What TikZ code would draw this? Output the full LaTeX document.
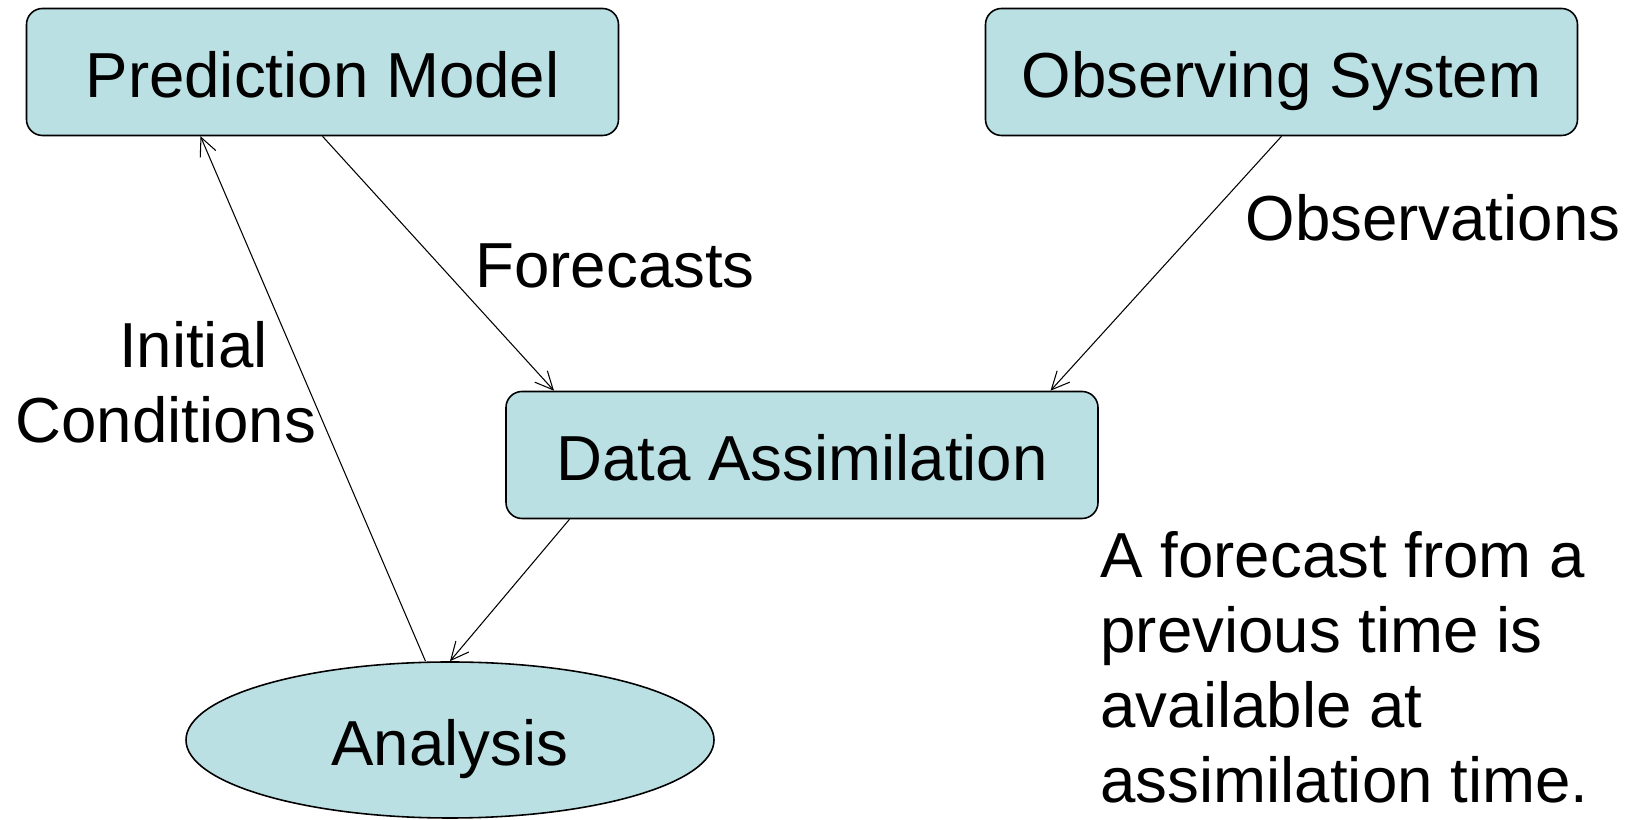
\documentclass[tikz,border=0pt]{standalone}
\usepackage{fontspec}
\setmainfont{Liberation Sans}
\usetikzlibrary{shapes.geometric,arrows.meta}
\definecolor{boxfill}{RGB}{187,224,227}

\begin{document}
\begin{tikzpicture}[x=1cm,y=1cm,line width=.6pt,font=\fontsize{36.2pt}{42.7pt}\selectfont,
  stage/.style={draw,line width=.9pt,fill=boxfill,rounded corners=.32cm,minimum width=11.84cm,minimum height=2.54cm,inner sep=0pt,text height=29pt,text depth=0pt},
  flow/.style={-{Straight Barb[length=3.6mm,width=3.4mm]}}]
\useasboundingbox (0,0) rectangle (32.78,16.4);
\node[stage] (pm) at (6.45,14.96) {Prediction Model};
\node[stage] (os) at (25.63,14.96) {Observing System};
\node[stage] (da) at (16.04,7.30) {Data Assimilation};
\node[draw,line width=.9pt,fill=boxfill,ellipse,minimum width=10.56cm,minimum height=3.12cm,inner sep=0pt,text height=29pt,text depth=0pt] (an) at (9.0,1.6) {Analysis};
\draw[flow] (pm.south) -- ([xshift=-4.96cm]da.north);
\draw[flow] (os.south) -- ([xshift=4.97cm]da.north);
\draw[flow] ([xshift=-4.65cm]da.south) -- (an.north);
\draw[flow] ([xshift=-.49cm]an.north) -- ([xshift=-2.44cm]pm.south);
\node[anchor=base west,inner sep=0pt] (fc) at (9.5,10.65) {Forecasts};
\node[anchor=base west,inner sep=0pt] (ob) at (24.9,11.59) {Observations};
\node[anchor=base west,inner sep=0pt] (ic) at (2.37,9.04) {Initial};
\node[anchor=base west,inner sep=0pt] (cd) at (0.3,7.54) {Conditions};
\node[anchor=base west,align=left,inner sep=0pt] (nt) at (22.0,0.34) {A forecast from a\\previous time is\\available at\\assimilation time.};
\end{tikzpicture}
\end{document}
